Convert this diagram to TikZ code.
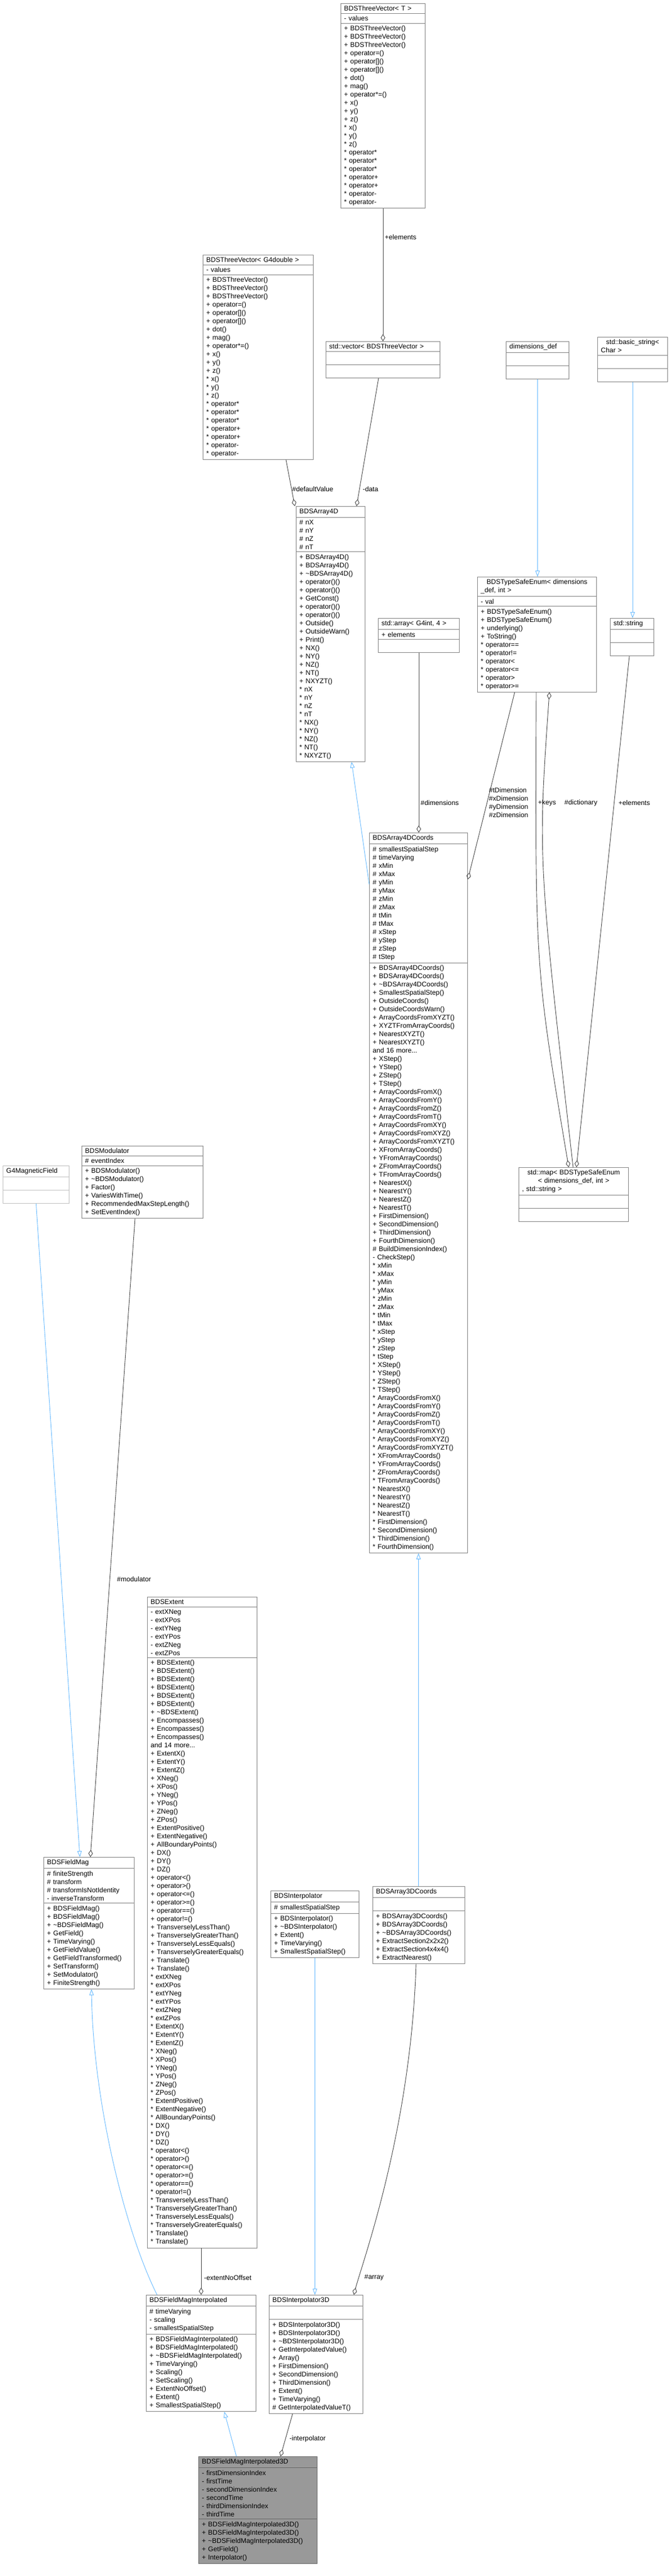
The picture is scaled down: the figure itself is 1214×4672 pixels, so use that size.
\documentclass[tikz,border=0pt]{standalone}
\usepackage{fontspec}
\setmainfont{Liberation Sans}
\usetikzlibrary{arrows.meta,shapes.multipart,calc}
\definecolor{boxgray}{HTML}{808080}
\definecolor{extgray}{HTML}{BFBFBF}
\definecolor{aggray}{HTML}{404040}
\definecolor{inhblue}{HTML}{63B8FF}
\definecolor{selfill}{HTML}{999999}
\newcommand{\nl}{\par}
\newcommand{\dt}{\textasciitilde}
\tikzset{
    every picture/.style={line width=0.9pt},
    cls/.style={rectangle split,rectangle split parts=3,draw=boxgray,fill=white,
        anchor=north west,inner xsep=6pt,inner ysep=4pt,align=left,
        font=\fontsize{12.3}{15}\selectfont},
    inh/.style={draw=inhblue,-{Triangle[open,length=11pt,width=8pt]}},
    agg/.style={draw=aggray,-{Diamond[open,length=13pt,width=8pt]}},
    lbl/.style={anchor=west,inner sep=0pt,font=\fontsize{12.3}{15}\selectfont,align=left}
}
\begin{document}
\begin{tikzpicture}[x=1pt,y=-1pt]
    \useasboundingbox (0,0) rectangle (1214,4672);
    % top row
    \node[cls,text width=141pt] (tv) at (618,6) {\centering BDSThreeVector< T >
        \nodepart{two}- values
        \nodepart{three}+ BDSThreeVector()\nl + BDSThreeVector()\nl + BDSThreeVector()\nl + operator=()\nl + operator[]()\nl + operator[]()\nl + dot()\nl + mag()\nl + operator*=()\nl + x()\nl + y()\nl + z()\nl * x()\nl * y()\nl * z()\nl * operator*\nl * operator*\nl * operator*\nl * operator+\nl * operator+\nl * operator-\nl * operator-};
    \node[cls,text width=188pt] (tvg) at (368,462) {\centering BDSThreeVector< G4double >
        \nodepart{two}- values
        \nodepart{three}+ BDSThreeVector()\nl + BDSThreeVector()\nl + BDSThreeVector()\nl + operator=()\nl + operator[]()\nl + operator[]()\nl + dot()\nl + mag()\nl + operator*=()\nl + x()\nl + y()\nl + z()\nl * x()\nl * y()\nl * z()\nl * operator*\nl * operator*\nl * operator*\nl * operator+\nl * operator+\nl * operator-\nl * operator-};
    \node[cls,text width=195pt] (vec) at (591,619) {\centering std::vector< BDSThreeVector >
        \nodepart{two}\strut
        \nodepart{three}\strut};
    \node[cls,text width=102pt] (dims) at (918,619) {\centering dimensions\_def
        \nodepart{two}\strut
        \nodepart{three}\strut};
    \node[cls,text width=115pt] (bstr) at (1084,611) {\centering std::basic\_string<\nl Char >
        \nodepart{two}\strut
        \nodepart{three}\strut};
    % arrays
    \node[cls,text width=113pt] (a4d) at (537,918) {\centering BDSArray4D
        \nodepart{two}\# nX\nl \# nY\nl \# nZ\nl \# nT
        \nodepart{three}+ BDSArray4D()\nl + BDSArray4D()\nl + \dt BDSArray4D()\nl + operator()()\nl + operator()()\nl + GetConst()\nl + operator()()\nl + operator()()\nl + Outside()\nl + OutsideWarn()\nl + Print()\nl + NX()\nl + NY()\nl + NZ()\nl + NT()\nl + NXYZT()\nl * nX\nl * nY\nl * nZ\nl * nT\nl * NX()\nl * NY()\nl * NZ()\nl * NT()\nl * NXYZT()};
    \node[cls,text width=135pt] (arr) at (686,1121) {\centering std::array< G4int, 4 >
        \nodepart{two}+ elements
        \nodepart{three}\strut};
    \node[cls,text width=204pt] (tse) at (866,1046) {\centering BDSTypeSafeEnum< dimensions\nl \_def, int >
        \nodepart{two}- val
        \nodepart{three}+ BDSTypeSafeEnum()\nl + BDSTypeSafeEnum()\nl + underlying()\nl + ToString()\nl * operator==\nl * operator!=\nl * operator<\nl * operator<=\nl * operator>\nl * operator>=};
    \node[cls,text width=67pt] (str) at (1107,1121) {\centering std::string
        \nodepart{two}\strut
        \nodepart{three}\strut};
    \node[cls,text width=166pt] (a4dc) at (670,1510) {\centering BDSArray4DCoords
        \nodepart{two}\# smallestSpatialStep\nl \# timeVarying\nl \# xMin\nl \# xMax\nl \# yMin\nl \# yMax\nl \# zMin\nl \# zMax\nl \# tMin\nl \# tMax\nl \# xStep\nl \# yStep\nl \# zStep\nl \# tStep
        \nodepart{three}+ BDSArray4DCoords()\nl + BDSArray4DCoords()\nl + \dt BDSArray4DCoords()\nl + SmallestSpatialStep()\nl + OutsideCoords()\nl + OutsideCoordsWarn()\nl + ArrayCoordsFromXYZT()\nl + XYZTFromArrayCoords()\nl + NearestXYZT()\nl + NearestXYZT()\nl and 16 more...\nl + XStep()\nl + YStep()\nl + ZStep()\nl + TStep()\nl + ArrayCoordsFromX()\nl + ArrayCoordsFromY()\nl + ArrayCoordsFromZ()\nl + ArrayCoordsFromT()\nl + ArrayCoordsFromXY()\nl + ArrayCoordsFromXYZ()\nl + ArrayCoordsFromXYZT()\nl + XFromArrayCoords()\nl + YFromArrayCoords()\nl + ZFromArrayCoords()\nl + TFromArrayCoords()\nl + NearestX()\nl + NearestY()\nl + NearestZ()\nl + NearestT()\nl + FirstDimension()\nl + SecondDimension()\nl + ThirdDimension()\nl + FourthDimension()\nl \# BuildDimensionIndex()\nl - CheckStep()\nl * xMin\nl * xMax\nl * yMin\nl * yMax\nl * zMin\nl * zMax\nl * tMin\nl * tMax\nl * xStep\nl * yStep\nl * zStep\nl * tStep\nl * XStep()\nl * YStep()\nl * ZStep()\nl * TStep()\nl * ArrayCoordsFromX()\nl * ArrayCoordsFromY()\nl * ArrayCoordsFromZ()\nl * ArrayCoordsFromT()\nl * ArrayCoordsFromXY()\nl * ArrayCoordsFromXYZ()\nl * ArrayCoordsFromXYZT()\nl * XFromArrayCoords()\nl * YFromArrayCoords()\nl * ZFromArrayCoords()\nl * TFromArrayCoords()\nl * NearestX()\nl * NearestY()\nl * NearestZ()\nl * NearestT()\nl * FirstDimension()\nl * SecondDimension()\nl * ThirdDimension()\nl * FourthDimension()};
    \node[cls,text width=187pt] (map) at (941,2117) {\centering std::map< BDSTypeSafeEnum\nl < dimensions\_def, int >\nl , std::string >
        \nodepart{two}\strut
        \nodepart{three}\strut};
    % field side
    \node[cls,draw=extgray,text width=108pt] (g4mf) at (5,2114) {\centering G4MagneticField
        \nodepart{two}\strut
        \nodepart{three}\strut};
    \node[cls,text width=208pt] (mod) at (148,2078) {\centering BDSModulator
        \nodepart{two}\# eventIndex
        \nodepart{three}+ BDSModulator()\nl + \dt BDSModulator()\nl + Factor()\nl + VariesWithTime()\nl + RecommendedMaxStepLength()\nl + SetEventIndex()};
    \node[cls,text width=187pt] (ext) at (267,2896) {\centering BDSExtent
        \nodepart{two}- extXNeg\nl - extXPos\nl - extYNeg\nl - extYPos\nl - extZNeg\nl - extZPos
        \nodepart{three}+ BDSExtent()\nl + BDSExtent()\nl + BDSExtent()\nl + BDSExtent()\nl + BDSExtent()\nl + BDSExtent()\nl + \dt BDSExtent()\nl + Encompasses()\nl + Encompasses()\nl + Encompasses()\nl and 14 more...\nl + ExtentX()\nl + ExtentY()\nl + ExtentZ()\nl + XNeg()\nl + XPos()\nl + YNeg()\nl + YPos()\nl + ZNeg()\nl + ZPos()\nl + ExtentPositive()\nl + ExtentNegative()\nl + AllBoundaryPoints()\nl + DX()\nl + DY()\nl + DZ()\nl + operator<()\nl + operator>()\nl + operator<=()\nl + operator>=()\nl + operator==()\nl + operator!=()\nl + TransverselyLessThan()\nl + TransverselyGreaterThan()\nl + TransverselyLessEquals()\nl + TransverselyGreaterEquals()\nl + Translate()\nl + Translate()\nl * extXNeg\nl * extXPos\nl * extYNeg\nl * extYPos\nl * extZNeg\nl * extZPos\nl * ExtentX()\nl * ExtentY()\nl * ExtentZ()\nl * XNeg()\nl * XPos()\nl * YNeg()\nl * YPos()\nl * ZNeg()\nl * ZPos()\nl * ExtentPositive()\nl * ExtentNegative()\nl * AllBoundaryPoints()\nl * DX()\nl * DY()\nl * DZ()\nl * operator<()\nl * operator>()\nl * operator<=()\nl * operator>=()\nl * operator==()\nl * operator!=()\nl * TransverselyLessThan()\nl * TransverselyGreaterThan()\nl * TransverselyLessEquals()\nl * TransverselyGreaterEquals()\nl * Translate()\nl * Translate()};
    \node[cls,text width=152pt] (fm) at (79,3368) {\centering BDSFieldMag
        \nodepart{two}\# finiteStrength\nl \# transform\nl \# transformIsNotIdentity\nl - inverseTransform
        \nodepart{three}+ BDSFieldMag()\nl + BDSFieldMag()\nl + \dt BDSFieldMag()\nl + GetField()\nl + TimeVarying()\nl + GetFieldValue()\nl + GetFieldTransformed()\nl + SetTransform()\nl + SetModulator()\nl + FiniteStrength()};
    \node[cls,text width=148pt] (interp) at (491,3429) {\centering BDSInterpolator
        \nodepart{two}\# smallestSpatialStep
        \nodepart{three}+ BDSInterpolator()\nl + \dt BDSInterpolator()\nl + Extent()\nl + TimeVarying()\nl + SmallestSpatialStep()};
    \node[cls,text width=155pt] (a3dc) at (676,3421) {\centering BDSArray3DCoords
        \nodepart{two}\strut
        \nodepart{three}+ BDSArray3DCoords()\nl + BDSArray3DCoords()\nl + \dt BDSArray3DCoords()\nl + ExtractSection2x2x2()\nl + ExtractSection4x4x4()\nl + ExtractNearest()};
    % bottom
    \node[cls,text width=187pt] (fmi) at (265,4162) {\centering BDSFieldMagInterpolated
        \nodepart{two}\# timeVarying\nl - scaling\nl - smallestSpatialStep
        \nodepart{three}+ BDSFieldMagInterpolated()\nl + BDSFieldMagInterpolated()\nl + \dt BDSFieldMagInterpolated()\nl + TimeVarying()\nl + Scaling()\nl + SetScaling()\nl + ExtentNoOffset()\nl + Extent()\nl + SmallestSpatialStep()};
    \node[cls,text width=158pt] (i3d) at (488,4162) {\centering BDSInterpolator3D
        \nodepart{two}\strut
        \nodepart{three}+ BDSInterpolator3D()\nl + BDSInterpolator3D()\nl + \dt BDSInterpolator3D()\nl + GetInterpolatedValue()\nl + Array()\nl + FirstDimension()\nl + SecondDimension()\nl + ThirdDimension()\nl + Extent()\nl + TimeVarying()\nl \# GetInterpolatedValueT()};
    \node[cls,draw=boxgray!80!black,fill=selfill,text width=203pt] (fmi3d) at (360,4455) {\centering BDSFieldMagInterpolated3D
        \nodepart{two}- firstDimensionIndex\nl - firstTime\nl - secondDimensionIndex\nl - secondTime\nl - thirdDimensionIndex\nl - thirdTime
        \nodepart{three}+ BDSFieldMagInterpolated3D()\nl + BDSFieldMagInterpolated3D()\nl + \dt BDSFieldMagInterpolated3D()\nl + GetField()\nl + Interpolator()};
    % connectors
    \draw[agg] (tv.south) -- (tv.south |- vec.north);
    \draw[agg] ([xshift=151pt]tvg.south west) -- ([xshift=-2pt]a4d.north west);
    \draw[agg] ([xshift=96pt]vec.south west) -- ([xshift=110pt]a4d.north west);
    \draw[inh] (dims.south) -- (dims.south |- tse.north);
    \draw[inh] (bstr.south) -- (bstr.south |- str.north);
    \draw[inh] ([yshift=-94pt]a4dc.north west) -- ([xshift=101pt]a4d.south west);
    \draw[agg] (arr.south) -- (arr.south |- a4dc.north);
    \draw[agg] ([xshift=68pt]tse.south west) -- ([yshift=-85pt]a4dc.north east);
    \draw[agg] ([xshift=107pt]tse.south west) .. controls ([xshift=105pt,yshift=-500pt]tse.south west) .. ([xshift=91pt]map.north west);
    \draw[agg] ([xshift=99pt]map.north west) .. controls ([xshift=110pt,yshift=-300pt]tse.south west) .. ([xshift=131pt]tse.south west);
    \draw[agg] ([xshift=35pt]str.south west) -- ([xshift=105pt]map.north west);
    \draw[inh] (a4dc.south |- a3dc.north) -- (a4dc.south);
    \draw[inh] (g4mf.south) -- ([xshift=66pt]fm.north west);
    \draw[agg] ([xshift=97pt]mod.south west) -- ([xshift=85pt]fm.north west);
    \draw[inh] ([xshift=20pt]fmi.north west) .. controls ([xshift=-40pt,yshift=120pt]fmi.north west) and ([xshift=90pt,yshift=-200pt]fm.south west) .. ([xshift=87pt]fm.south west);
    \draw[agg] ([xshift=98pt]ext.south west) -- ([xshift=100pt]fmi.north west);
    \draw[inh] (interp.south) -- (interp.south |- i3d.north);
    \draw[agg] ([xshift=79pt]a3dc.south west) .. controls ([xshift=70pt,yshift=-300pt]a3dc.south west) and ([xshift=170pt,yshift=60pt]i3d.north west) .. ([xshift=154pt]i3d.north west);
    \draw[inh] ([xshift=69pt]fmi3d.north west) -- ([xshift=142pt]fmi.south west);
    \draw[agg] ([xshift=43pt]i3d.south west) -- ([xshift=149pt]fmi3d.north west);
    % labels
    \node[lbl] (lTvElem) at (698,430) {+elements};
    \node[lbl] (lDefault) at (530,887) {\#defaultValue};
    \node[lbl] (lData) at (658,887) {-data};
    \node[lbl] (lDims) at (763,1456) {\#dimensions};
    \node[lbl] (lTDim) at (887,1456) {\#tDimension\\ \#xDimension\\ \#yDimension\\ \#zDimension};
    \node[lbl] (lKeys) at (976,1456) {+keys};
    \node[lbl] (lDict) at (1024,1456) {\#dictionary};
    \node[lbl] (lStrElem) at (1122,1456) {+elements};
    \node[lbl] (lMod) at (212,2864) {\#modulator};
    \node[lbl] (lExt) at (370,4131) {-extentNoOffset};
    \node[lbl] (lArray) at (661,4131) {\#array};
    \node[lbl] (lInterp) at (525,4423) {-interpolator};
\end{tikzpicture}
\end{document}
